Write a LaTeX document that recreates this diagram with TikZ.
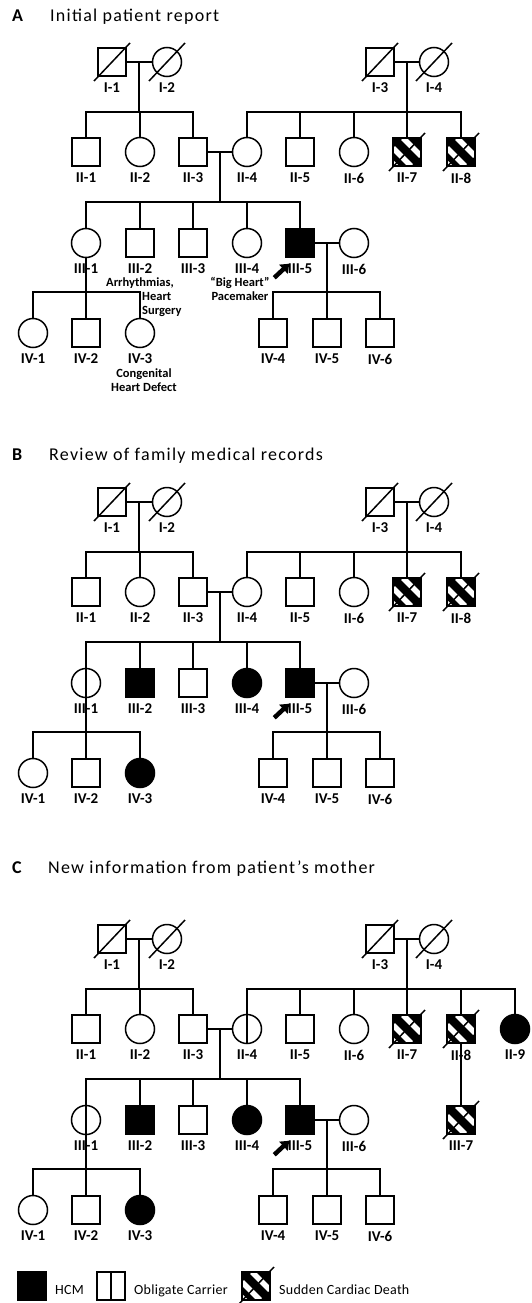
\documentclass[tikz,border=0pt]{standalone}
\usepackage{fontspec}
\setmainfont{Carlito}
\newfontfamily\ttlfont[LetterSpace=7]{Carlito}
\newfontfamily\lgdfont[LetterSpace=2]{Carlito}
\usetikzlibrary{calc,arrows.meta}

\tikzset{
  sym/.style={draw, line width=1.5pt, inner sep=0pt, fill=white},
  male/.style={sym, rectangle, minimum size=28pt},
  female/.style={sym, circle, minimum size=29pt},
  aff/.style={fill=black},
  carrier/.style={path picture={\draw[line width=1.1pt] (path picture bounding box.north) -- (path picture bounding box.south);}},
  scd/.style={fill=black, path picture={
      \draw[white, line width=5.5pt]
        ([xshift=10pt]path picture bounding box.north west) -- ([yshift=10pt]path picture bounding box.south east)
        ([yshift=-10pt]path picture bounding box.north west) -- ([xshift=-10pt]path picture bounding box.south east);
      \draw[white, line width=3pt]
        ([yshift=-24pt]path picture bounding box.north west) -- ([xshift=-24pt]path picture bounding box.south east);
  }},
  lbl/.style={font=\bfseries\fontsize{15}{16}\selectfont, inner sep=0pt},
  note/.style={font=\bfseries\fontsize{12.5}{14}\selectfont, inner sep=0pt},
  link/.style={line width=1.8pt},
  slashline/.style={line width=1.5pt},
  pointer/.style={line width=4.5pt, -{Triangle[length=8pt,width=12pt]}},
  ttl/.style={font=\ttlfont\fontsize{18}{20}\selectfont, inner sep=0pt, anchor=base west},
  ttlletter/.style={font=\bfseries\fontsize{18}{20}\selectfont, inner sep=0pt, anchor=base west},
  lgd/.style={font=\lgdfont\fontsize{14}{16}\selectfont, inner sep=0pt, anchor=base west},
  stIIfour/.style={}, stIIIone/.style={}, stIIItwo/.style={},
  stIIIfour/.style={}, stIVthree/.style={}
}

\newcommand\pedind[5]{%
  \node[#4] (#1) at (#2,#3) {};
  \node[lbl] (#1l) at (#2,#3+26) {#5};%
}
\newcommand\pedslash[1]{%
  \draw[slashline] ([xshift=-18pt,yshift=-19pt]#1.center) -- ([xshift=18pt,yshift=19pt]#1.center);%
}

\newcommand\pedtree[1]{%
  \pedind{#1I1}{112}{62}{male}{I-1}
  \pedind{#1I2}{167}{62}{female}{I-2}
  \pedind{#1I3}{380}{62}{male}{I-3}
  \pedind{#1I4}{434}{62}{female}{I-4}
  \pedind{#1II1}{86}{152}{male}{II-1}
  \pedind{#1II2}{140}{152}{female}{II-2}
  \pedind{#1II3}{193}{152}{male}{II-3}
  \pedind{#1II4}{247}{152}{female,stIIfour}{II-4}
  \pedind{#1II5}{300}{152}{male}{II-5}
  \pedind{#1II6}{354}{152}{female}{II-6}
  \pedind{#1II7}{407}{152}{male,scd}{II-7}
  \pedind{#1II8}{461}{152}{male,scd}{II-8}
  \pedind{#1III1}{86}{243}{female,stIIIone}{III-1}
  \pedind{#1III2}{140}{243}{male,stIIItwo}{III-2}
  \pedind{#1III3}{193}{243}{male}{III-3}
  \pedind{#1III4}{247}{243}{female,stIIIfour}{III-4}
  \pedind{#1III5}{300}{243}{male,aff}{III-5}
  \pedind{#1III6}{354}{243}{female}{III-6}
  \pedind{#1IV1}{33}{333}{female}{IV-1}
  \pedind{#1IV2}{86}{333}{male}{IV-2}
  \pedind{#1IV3}{140}{333}{female,stIVthree}{IV-3}
  \pedind{#1IV4}{273}{333}{male}{IV-4}
  \pedind{#1IV5}{327}{333}{male}{IV-5}
  \pedind{#1IV6}{380}{333}{male}{IV-6}
  \coordinate (#1sII) at (0,112);
  \coordinate (#1sIII) at (0,202);
  \coordinate (#1sIV) at (0,292);
  % generation I -> II
  \draw[link] (#1I1.east) -- coordinate (#1m1) (#1I2.west);
  \draw[link] (#1m1) -- (#1m1 |- #1sII);
  \draw[link] (#1II1.north) |- (#1II3.north |- #1sII) -- (#1II3.north);
  \draw[link] (#1II2.north) -- (#1II2.north |- #1sII);
  \draw[link] (#1I3.east) -- coordinate (#1m2) (#1I4.west);
  \draw[link] (#1m2) -- (#1m2 |- #1sII);
  \draw[link] (#1II4.north) |- (#1II8.north |- #1sII) -- (#1II8.north);
  \foreach \k in {II5,II6,II7} {\draw[link] (#1\k.north) -- (#1\k.north |- #1sII);}
  % generation II -> III
  \draw[link] (#1II3.east) -- coordinate (#1m3) (#1II4.west);
  \draw[link] (#1m3) -- (#1m3 |- #1sIII);
  \draw[link] (#1III1.north) |- (#1III5.north |- #1sIII) -- (#1III5.north);
  \foreach \k in {III2,III3,III4} {\draw[link] (#1\k.north) -- (#1\k.north |- #1sIII);}
  % generation III -> IV
  \draw[link] (#1III5.east) -- coordinate (#1m4) (#1III6.west);
  \draw[link] (#1m4) -- (#1m4 |- #1sIV);
  \draw[link] (#1IV4.north) |- (#1IV6.north |- #1sIV) -- (#1IV6.north);
  \draw[link] (#1IV5.north) -- (#1IV5.north |- #1sIV);
  \draw[link] (#1III1.south) -- (#1III1.south |- #1sIV);
  \draw[link] (#1IV1.north) |- (#1IV3.north |- #1sIV) -- (#1IV3.north);
  \draw[link] (#1IV2.north) -- (#1IV2.north |- #1sIV);
  % deceased
  \pedslash{#1I1}\pedslash{#1I2}\pedslash{#1I3}\pedslash{#1I4}
  \pedslash{#1II7}\pedslash{#1II8}
  % proband arrow
  \draw[pointer] ([xshift=-11pt,yshift=-20pt]#1III5.south west) -- ([xshift=4pt,yshift=-6pt]#1III5.south west);
}

\begin{document}
\begin{tikzpicture}[x=1pt,y=-1pt]
\useasboundingbox[fill=white] (0,0) rectangle (531,1303);

% ---------- Panel A ----------
\node[ttlletter] (Aletter) at (12,22) {A};
\node[ttl] (Atitle) at (50,22) {Initial patient report};
\begin{scope}
  \pedtree{A}
  \node[note, anchor=north west, align=left] (Anote1) at (106,278)
    {Arrhythmias,\\\hspace*{36pt}Heart\\\hspace*{36pt}Surgery};
  \node[note, anchor=north, align=center] (Anote2) at (240,277)
    {\textquotedblleft Big Heart\textquotedblright\\Pacemaker};
  \node[note, anchor=north, align=center] (Anote3) at (144,369)
    {Congenital\\Heart Defect};
\end{scope}

% ---------- Panel B ----------
\node[ttlletter] (Bletter) at (12,460) {B};
\node[ttl] (Btitle) at (49,460) {Review of family medical records};
\begin{scope}[shift={(0,440)},
    stIIIone/.style=carrier, stIIItwo/.style=aff,
    stIIIfour/.style=aff, stIVthree/.style=aff]
  \pedtree{B}
\end{scope}

% ---------- Panel C ----------
\node[ttlletter] (Cletter) at (12,873) {C};
\node[ttl] (Ctitle) at (48,873) {New information from patient\textquoteright s mother};
\begin{scope}[shift={(0,877)},
    stIIfour/.style=carrier,
    stIIIone/.style=carrier, stIIItwo/.style=aff,
    stIIIfour/.style=aff, stIVthree/.style=aff]
  \pedtree{C}
  \pedind{CII9}{515}{152}{female,aff}{II-9}
  \pedind{CIII7}{461}{243}{male,scd}{III-7}
  \pedslash{CIII7}
  \draw[link] (CII8.north |- CsII) -| (CII9.north);
  \draw[link] (CII8.south) -- (CIII7.north);
\end{scope}

% ---------- Legend ----------
\node[male,aff] (Lhcm) at (32,1286) {};
\node[lgd] (Lhcmt) at (55,1294) {HCM};
\node[male,carrier] (Lcar) at (111,1286) {};
\node[lgd] (Lcart) at (134,1294) {Obligate Carrier};
\node[male,scd] (Lscd) at (256,1286) {};
\pedslash{Lscd}
\node[lgd] (Lscdt) at (279,1294) {Sudden Cardiac Death};
\end{tikzpicture}
\end{document}
